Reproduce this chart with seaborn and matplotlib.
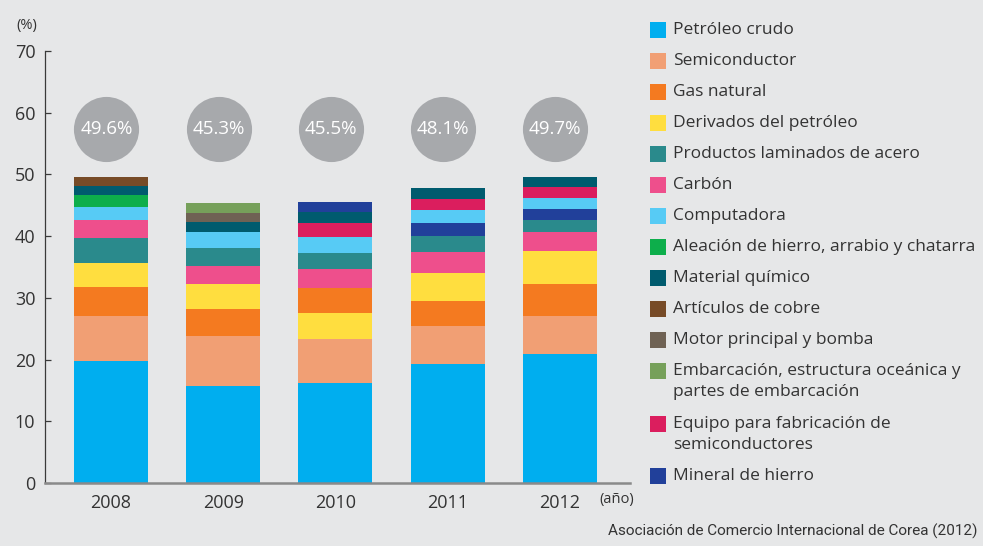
import matplotlib
matplotlib.use("Agg")
import matplotlib.pyplot as plt
import seaborn as sns
import pandas as pd
from matplotlib.patches import Rectangle

# ---------------- data ----------------
years = ["2008", "2009", "2010", "2011", "2012"]
total_labels = ["49.6%", "45.3%", "45.5%", "48.1%", "49.7%"]

categories = [
    "Petróleo crudo", "Semiconductor", "Gas natural", "Derivados del petróleo",
    "Productos laminados de acero", "Carbón", "Computadora",
    "Aleación de hierro, arrabio y chatarra", "Material químico",
    "Artículos de cobre", "Motor principal y bomba",
    "Embarcación, estructura oceánica y partes de embarcación",
    "Equipo para fabricación de semiconductores", "Mineral de hierro",
]
legend_labels = [
    "Petróleo crudo", "Semiconductor", "Gas natural", "Derivados del petróleo",
    "Productos laminados de acero", "Carbón", "Computadora",
    "Aleación de hierro, arrabio y chatarra", "Material químico",
    "Artículos de cobre", "Motor principal y bomba",
    "Embarcación, estructura oceánica y\npartes de embarcación",
    "Equipo para fabricación de\nsemiconductores", "Mineral de hierro",
]
colors = [
    "#00AEEF", "#F19F74", "#F47A20", "#FFDE3F", "#2A8A8C", "#EE4F8C",
    "#57CBF5", "#0DAE4B", "#005B6E", "#774B27", "#6F6254", "#76A05A",
    "#DB1E5E", "#21409A",
]

# stacking order (bottom -> top) and values per year, in %
order_2008 = [0, 1, 2, 3, 4, 5, 6, 7, 8, 9]
values_2008 = [19.7, 7.3, 4.7, 3.9, 4.05, 2.9, 2.1, 1.95, 1.45, 1.5]
order_2009 = [0, 1, 2, 3, 5, 4, 6, 8, 10, 11]
values_2009 = [15.7, 8.1, 4.4, 4.0, 3.0, 2.8, 2.6, 1.6, 1.6, 1.5]
order_2010 = [0, 1, 3, 2, 5, 4, 6, 12, 8, 13]
values_2010 = [16.2, 7.1, 4.2, 4.05, 3.1, 2.6, 2.6, 2.3, 1.8, 1.5]
order_2011 = [0, 1, 2, 3, 5, 4, 13, 6, 12, 8]
values_2011 = [19.2, 6.2, 4.05, 4.5, 3.4, 2.6, 2.1, 2.1, 1.8, 1.8]
order_2012 = [0, 1, 2, 3, 5, 4, 13, 6, 12, 8]
values_2012 = [20.9, 6.1, 5.2, 5.35, 3.1, 1.95, 1.8, 1.8, 1.8, 1.6]

orders = [order_2008, order_2009, order_2010, order_2011, order_2012]
values = [values_2008, values_2009, values_2010, values_2011, values_2012]

# ---------------- style ----------------
BG = "#E6E7E8"
TXT = "#333333"
sns.set_theme(style="white")
plt.rcParams["font.family"] = ["Open Sans", "DejaVu Sans"]

W, H = 983, 546
fig = plt.figure(figsize=(W / 100, H / 100), dpi=100, facecolor=BG)
ax = fig.add_axes([45 / W, 1 - 483 / H, (630 - 45) / W, (483 - 50.8) / H])
ax.set_facecolor(BG)

# segment table
rows = []
for yi, yr in enumerate(years):
    cum = 0.0
    for lvl, (ci, v) in enumerate(zip(orders[yi], values[yi])):
        cum += v
        rows.append({"year": yr, "level": lvl, "category": categories[ci],
                     "color": colors[ci], "top": cum})
df = pd.DataFrame(rows)

# overlay cumulative bars from the top level down
n_levels = df["level"].max() + 1
for lvl in range(n_levels - 1, -1, -1):
    sub = df[df["level"] == lvl]
    pal = dict(zip(sub["year"], sub["color"]))
    sns.barplot(data=sub, x="year", y="top", hue="year", palette=pal,
                order=years, hue_order=years, saturation=1, width=0.66,
                legend=False, linewidth=0, ax=ax)

# total circles
totals_y = 57.4
for i, lab in enumerate(total_labels):
    ax.scatter([i - 0.04], [totals_y], s=2200, color="#A7A9AC", zorder=5,
               linewidths=0, clip_on=False)
    ax.text(i - 0.04, totals_y, lab, color="white", fontsize=13.5,
            ha="center", va="center", zorder=6)

# axes
ax.set_ylim(0, 70)
ax.set_xlim(-0.588, 4.626)
ax.set_yticks(range(0, 71, 10))
ax.set_xlabel("")
ax.set_ylabel("")
for s in ["top", "right"]:
    ax.spines[s].set_visible(False)
ax.spines["left"].set_color("#3a3a3a")
ax.spines["left"].set_linewidth(0.9)
ax.spines["bottom"].set_color("#8a8a8a")
ax.spines["bottom"].set_linewidth(1.8)
ax.spines["bottom"].set_zorder(7)
ax.tick_params(axis="y", direction="in", length=4.5, width=0.9, color="#3a3a3a",
               labelsize=13, labelcolor=TXT, pad=7, left=True)
ax.tick_params(axis="x", length=0, labelsize=13, labelcolor=TXT, pad=8)

fig.text(27 / W, 1 - 26 / H, "(%)", fontsize=10.5, color=TXT, ha="center", va="center")
fig.text(617 / W, 1 - 500 / H, "(año)", fontsize=10.5, color=TXT, ha="center", va="center")
fig.text(978 / W, 1 - 531 / H, "Asociación de Comercio Internacional de Corea (2012)",
         fontsize=11, color=TXT, ha="right", va="center",
         family=["Roboto", "DejaVu Sans"])

# legend (manual, to match layout)
y = 30.0
for lab, col in zip(legend_labels, colors):
    lines = lab.split("\n")
    fig.patches.append(Rectangle((650 / W, 1 - (y + 8) / H), 16 / W, 16 / H,
                                 transform=fig.transFigure, facecolor=col,
                                 edgecolor="none"))
    for j, line in enumerate(lines):
        fig.text(673 / W, 1 - (y + 21.5 * j) / H, line, fontsize=12.5, color=TXT,
                 ha="left", va="center")
    y += 31 + 21.5 * (len(lines) - 1)

fig.savefig("out.png", dpi=100, facecolor=BG)
